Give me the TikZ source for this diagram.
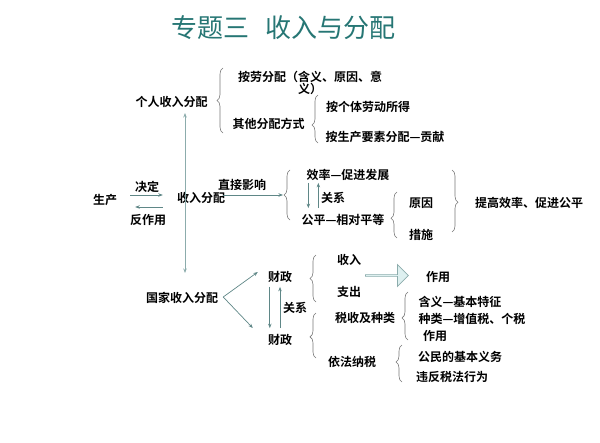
\documentclass[tikz,border=0pt]{standalone}
\usepackage{fontspec}
\setmainfont{Noto Sans CJK SC}[BoldFont={Noto Sans CJK SC Bold}]
\usetikzlibrary{arrows.meta,calc,decorations.pathreplacing,shapes.arrows}
\definecolor{titlecol}{RGB}{38,118,116}
\definecolor{arrcol}{RGB}{95,135,135}
\definecolor{linecol}{RGB}{140,172,172}
\definecolor{bracecol}{RGB}{120,120,120}
\definecolor{blockfill}{RGB}{222,240,240}
\begin{document}
\begin{tikzpicture}[x=1pt, y=-1pt, >={Stealth[length=4.5pt,width=3.5pt]},
    txt/.style={inner sep=0pt, font=\fontsize{12}{12}\selectfont\bfseries},
    arr/.style={arrcol, line width=0.7pt, ->},
    brc/.style={bracecol, line width=0.6pt, decorate,
        decoration={brace, amplitude=6pt, aspect=#1}},
    brc/.default=0.5]
    \useasboundingbox (0,0) rectangle (600,442);
    \node[titlecol, inner sep=0pt, font=\fontsize{26}{26}\selectfont] (title) at (283.5,28) {专题三\hspace{0.58em}收入与分配};

    % personal income
    \node[txt] (personal) at (171.5,102) {个人收入分配};
    \node[txt, align=center] (labour) at (310,83) {按劳分配（含义、原因、意\\义）};
    \node[txt] (other) at (268.5,124) {其他分配方式};
    \node[txt] (selfwork) at (368,107) {按个体劳动所得};
    \node[txt] (factor) at (385,137) {按生产要素分配—贡献};
    \draw[brc] (223,133) -- (223,68);
    \draw[brc=0.375] (318,143) -- (318,95);

    % production and distribution
    \node[txt] (prod) at (105,200) {生产};
    \node[txt] (decide) at (147,187) {决定};
    \node[txt] (react) at (148,220) {反作用};
    \node[txt] (inc) at (201,198) {收入分配};
    \draw[arr] ($(prod.east)+(13,-5)$) -- ($(inc.west)+(-14,-3)$);
    \draw[arr] ($(inc.west)+(-14,9)$) -- ($(prod.east)+(18,7)$);
    \coordinate (up) at (185,113);
    \coordinate (down) at (185,273);
    \draw[linecol, line width=0.8pt, <->] (up) -- (down);

    % efficiency and fairness
    \node[txt] (direct) at (242,185) {直接影响};
    \coordinate (b3tip) at (283,195);
    \draw[arr] ($(inc.east)+(-2,-3)$) -- (b3tip);
    \draw[brc] (290,220) -- (290,170);
    \node[txt] (eff) at (348,175) {效率—促进发展};
    \node[txt] (fair) at (343,220) {公平—相对平等};
    \node[txt] (rel1) at (333,198) {关系};
    \draw[arr] ($(eff.south west)+(2,2)$) -- ($(eff.south west |- fair.north)+(2,-6)$);
    \draw[arr] ($(eff.south west |- fair.north)+(12,-6)$) -- ($(eff.south west)+(12,2)$);
    \draw[brc=0.43] (397,238) -- (397,192);
    \node[txt] (cause) at (421,203) {原因};
    \node[txt] (measure) at (421,235) {措施};
    \draw[brc=0.52] (452,170) -- (452,232);
    \node[txt] (goal) at (529,203) {提高效率、促进公平};

    % state income
    \node[txt] (state) at (182,298) {国家收入分配};
    \node[txt] (fin1) at (280,277) {财政};
    \node[txt] (fin2) at (280,340) {财政};
    \node[txt] (rel2) at (295,308) {关系};
    \draw[arr] ($(state.east)+(5,-1)$) -- ($(fin1.west)+(-10,-5)$);
    \draw[arr] ($(state.east)+(5,-1)$) -- ($(fin2.west)+(-15,-12)$);
    \draw[arr] ($(fin1.south west)+(2,4)$) -- ($(fin2.north west)+(2,-6)$);
    \draw[arr] ($(fin2.north)+(0,-6)$) -- ($(fin1.south)+(0,4)$);
    \draw[brc] (316,302) -- (316,255);
    \draw[brc=0.47] (316,358) -- (316,313);
    \node[txt] (revenue) at (349,260) {收入};
    \node[txt] (spend) at (349,292) {支出};
    \node[single arrow, draw=linecol, fill=blockfill, line width=0.7pt,
        minimum height=43pt, minimum width=22pt, single arrow head extend=4pt,
        inner sep=0pt] (block) at (386.5,275.5) {};
    \node[txt] (role1) at (438,277) {作用};
    \node[txt] (tax) at (365,318) {税收及种类};
    \node[txt] (lawful) at (352,362) {依法纳税};
    \draw[brc=0.46] (408,340) -- (408,292);
    \node[txt] (meaning) at (460,302) {含义—基本特征};
    \node[txt] (kinds) at (472,319) {种类—增值税、个税};
    \node[txt] (role2) at (435,336) {作用};
    \draw[brc=0.54] (402,382) -- (402,345);
    \node[txt] (duty) at (460,357) {公民的基本义务};
    \node[txt] (viol) at (452,377) {违反税法行为};
\end{tikzpicture}
\end{document}
